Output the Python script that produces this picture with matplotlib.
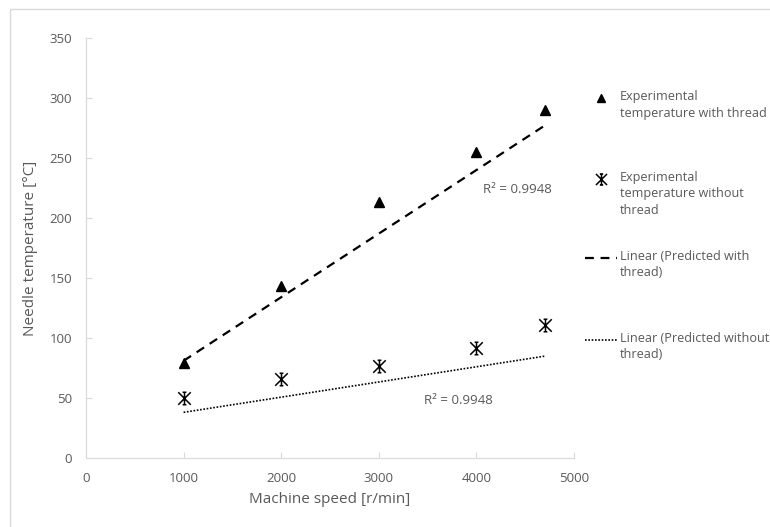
import numpy as np
import matplotlib.pyplot as plt
from matplotlib.patches import Rectangle
from matplotlib.lines import Line2D
from matplotlib.path import Path

# --- dados ---
speed = [1000, 2000, 3000, 4000, 4700]
temp_with = [79, 143, 213, 255, 290]
temp_without = [50, 66, 77, 92, 111]
pred_with = [81, 134, 187, 240, 277]
pred_without = [38, 51, 63, 76, 85]
r2_labels = ['R² = 0.9948', 'R² = 0.9948']

legend_labels = [
    'Experimental\ntemperature with thread',
    'Experimental\ntemperature without\nthread',
    'Linear (Predicted with\nthread)',
    'Linear (Predicted without\nthread)',
]

cinza = '#595959'
linha = '#d9d9d9'
plt.rcParams['font.family'] = ['Open Sans', 'DejaVu Sans']

# marcador "estrela" estilo Excel: X com traço vertical
estrela = Path([(-1, -1), (1, 1), (-1, 1), (1, -1), (0, -1), (0, 1),
                (-0.3, 1), (0.3, 1), (-0.3, -1), (0.3, -1)],
               [Path.MOVETO, Path.LINETO] * 5)

W, H = 770, 527
fig = plt.figure(figsize=(W / 100, H / 100), dpi=100)
ax = fig.add_axes([86 / W, 1 - 458 / H, 488 / W, 420 / H])

# borda externa do gráfico (cortada à direita e embaixo)
fig.patches.append(Rectangle((10 / W, -0.1), 1.1, 1 - 9 / H + 0.1,
                             transform=fig.transFigure, fill=False,
                             edgecolor=linha, linewidth=1))

# pontos experimentais
ax.plot(speed, temp_with, linestyle='none', marker='^', color='black',
        markersize=7)
ax.plot(speed, temp_without, linestyle='none', marker=estrela,
        color='black', markersize=9, markeredgewidth=1.1)

# linhas de tendência
x = np.array(speed)
a1, b1 = np.polyfit(x, pred_with, 1)
a2, b2 = np.polyfit(x, pred_without, 1)
xs = np.array([speed[0], speed[-1]])
ax.plot(xs, a1 * xs + b1, color='black', linestyle=(0, (4, 3)), linewidth=1.6)
ax.plot(xs, a2 * xs + b2, color='black', linestyle=(0, (1, 1)), linewidth=1.2)

ax.text(4420, 224, r2_labels[0], color=cinza, fontsize=9.5, ha='center', va='center')
ax.text(3820, 48, r2_labels[1], color=cinza, fontsize=9.5, ha='center', va='center')

ax.set_xlim(0, 5000)
ax.set_ylim(0, 350)
ax.set_xticks(range(0, 5001, 1000))
ax.set_yticks(range(0, 351, 50))
for s in ['top', 'right']:
    ax.spines[s].set_visible(False)
for s in ['left', 'bottom']:
    ax.spines[s].set_color(linha)
ax.tick_params(direction='in', length=4, color=linha, labelcolor=cinza,
               labelsize=9.5)
ax.tick_params(axis='x', pad=10)
ax.tick_params(axis='y', pad=10)
ax.set_xlabel('Machine speed [r/min]', color=cinza, fontsize=11, labelpad=5)
ax.set_ylabel('Needle temperature [°C]', color=cinza, fontsize=11, labelpad=8)

# legenda desenhada à mão
def fx(px):
    return px / W

def fy(py):
    return 1 - py / H

fig.add_artist(Line2D([fx(601)], [fy(98)], marker='^', color='black',
                      markersize=6, linestyle='none'))
fig.add_artist(Line2D([fx(601)], [fy(179)], marker=estrela, color='black',
                      markersize=8, markeredgewidth=1.1, linestyle='none'))
fig.add_artist(Line2D([fx(585), fx(617)], [fy(258), fy(258)], color='black',
                      linestyle=(0, (4, 3)), linewidth=1.6))
fig.add_artist(Line2D([fx(585), fx(617)], [fy(340), fy(340)], color='black',
                      linestyle=(0, (1, 1)), linewidth=1.2))

tops = [98, 179, 258, 340]
for lab, t in zip(legend_labels, tops):
    fig.text(fx(620), fy(t - 8), lab, color=cinza, fontsize=9.1,
             ha='left', va='top', linespacing=1.35)

fig.savefig('out.png', dpi=100)
